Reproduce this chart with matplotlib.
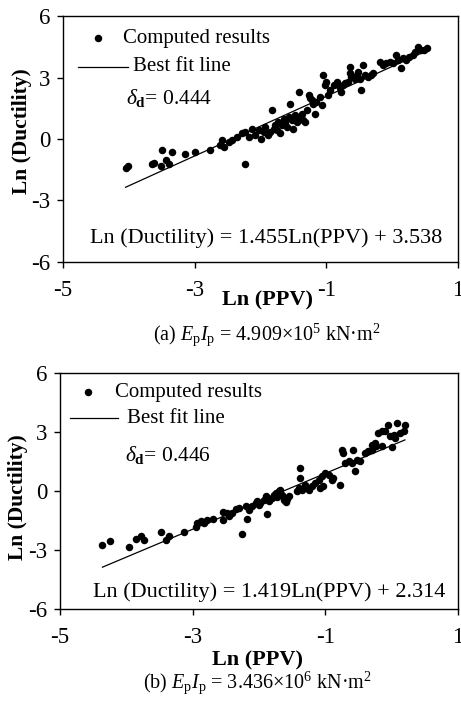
import matplotlib
matplotlib.use("Agg")
import matplotlib.pyplot as plt

plt.rcParams['font.family'] = ['Liberation Serif', 'DejaVu Serif']
plt.rcParams['mathtext.fontset'] = 'custom'
plt.rcParams['mathtext.rm'] = 'Liberation Serif'
plt.rcParams['mathtext.it'] = 'Liberation Serif:italic'
plt.rcParams['mathtext.bf'] = 'Liberation Serif:bold'
plt.rcParams['axes.unicode_minus'] = False

# (a) EpIp = 4.909e5
ppv_a = [-4.05, -4.02, -3.65, -3.62, -3.51, -3.49, -3.44, -3.39, -3.34, -3.15,
         -3.00, -2.76, -2.61, -2.58, -2.56, -2.48, -2.43, -2.36, -2.28, -2.23,
         -2.23, -2.18, -2.13, -2.08, -2.03, -2.00, -1.95, -1.93, -1.88, -1.85,
         -1.83, -1.80, -1.78, -1.75, -1.73, -1.70, -1.68, -1.65, -1.63, -1.60,
         -1.57, -1.55, -1.52, -1.50, -1.47, -1.45, -1.42, -1.40, -1.37, -1.35,
         -1.32, -1.30, -1.27, -1.25, -1.22, -1.20, -1.17, -1.15, -1.10, -1.07,
         -1.05, -1.02, -1.00, -0.97, -0.95, -0.89, -0.84, -0.79, -0.77, -0.74,
         -0.72, -0.67, -0.64, -0.64, -0.62, -0.57, -0.54, -0.52, -0.49, -0.47,
         -0.44, -0.42, -0.37, -0.32, -0.29, -0.19, -0.14, -0.09, -0.04, 0.01,
         0.06, 0.09, 0.14, 0.16, 0.21, 0.26, 0.32, 0.34, 0.39, 0.44,
         0.49, 0.53]
duct_a = [-1.41, -1.33, -1.20, -1.15, -1.31, -0.55, -1.00, -1.20, -0.63, -0.74,
          -0.63, -0.55, -0.30, -0.06, -0.38, -0.14, -0.06, 0.10, 0.27, 0.35,
          -1.20, 0.10, 0.51, 0.19, 0.43, 0.02, 0.35, 0.59, 0.19, 0.35,
          1.41, 0.51, 0.67, 0.43, 0.84, 0.27, 0.67, 1.00, 0.84, 0.59,
          1.08, 1.73, 0.92, 0.51, 1.16, 0.84, 2.30, 1.00, 1.24, 0.92,
          0.84, 1.41, 2.14, 1.98, 1.90, 1.73, 1.24, 1.81, 2.06, 1.65,
          3.12, 2.63, 2.79, 2.14, 2.38, 2.63, 2.79, 2.47, 2.30, 2.63,
          2.71, 2.79, 3.20, 3.52, 3.04, 2.95, 3.12, 3.28, 2.95, 2.38,
          3.61, 3.12, 3.04, 3.12, 3.20, 3.77, 3.61, 3.69, 3.77, 3.69,
          4.09, 3.85, 3.44, 3.93, 3.85, 4.01, 4.09, 4.26, 4.50, 4.34,
          4.34, 4.42]
slope_a, icpt_a = 1.455, 3.538
fit_a = [-4.05, 0.52]

# (b) EpIp = 3.436e6
ppv_b = [-4.36, -4.24, -3.96, -3.86, -3.78, -3.73, -3.48, -3.40, -3.35, -3.13,
         -2.95, -2.93, -2.88, -2.83, -2.78, -2.70, -2.55, -2.54, -2.48, -2.45,
         -2.40, -2.35, -2.30, -2.25, -2.20, -2.18, -2.15, -2.10, -2.05, -2.03,
         -2.00, -1.98, -1.93, -1.90, -1.88, -1.85, -1.80, -1.78, -1.75, -1.73,
         -1.70, -1.68, -1.65, -1.63, -1.60, -1.58, -1.55, -1.43, -1.40, -1.38,
         -1.38, -1.35, -1.30, -1.25, -1.20, -1.15, -1.10, -1.08, -1.05, -1.03,
         -1.00, -0.95, -0.90, -0.88, -0.78, -0.75, -0.73, -0.70, -0.65, -0.60,
         -0.58, -0.56, -0.53, -0.48, -0.40, -0.35, -0.30, -0.30, -0.25, -0.23,
         -0.20, -0.15, -0.15, -0.10, -0.05, -0.03, 0.00, 0.03, 0.05, 0.08,
         0.13, 0.18, 0.20]
duct_b = [-2.73, -2.56, -2.85, -2.44, -2.31, -2.47, -2.10, -2.47, -2.27, -2.08,
          -1.83, -1.63, -1.54, -1.63, -1.49, -1.42, -1.49, -1.08, -1.12, -1.25,
          -1.12, -0.92, -0.86, -2.19, -0.78, -1.42, -0.98, -0.78, -0.61, -0.53,
          -0.69, -0.61, -0.44, -0.27, -1.15, -0.53, -0.36, -0.19, -0.10, -0.31,
          -0.02, 0.07, -0.19, -0.44, -0.58, -0.41, -0.24, -0.02, 0.15, 0.66,
          1.17, 0.03, 0.32, 0.07, 0.24, 0.41, 0.58, 0.15, 0.75, 0.24,
          0.92, 0.83, 0.54, 0.66, 0.32, 2.07, 1.93, 1.42, 1.51, 1.42,
          2.10, 1.00, 1.59, 1.51, 1.93, 2.02, 2.36, 2.10, 2.44, 2.27,
          2.95, 3.03, 2.27, 3.03, 3.37, 2.78, 2.24, 2.86, 2.69, 3.46,
          2.95, 3.03, 3.37]
slope_b, icpt_b = 1.419, 2.314
fit_b = [-4.36, 0.20]

xticks = [-5, -3, -1, 1]
yticks = [-6, -3, 0, 3, 6]

W, H = 461, 704
fig = plt.figure(figsize=(W / 100, H / 100), dpi=100)


def panel(rect, x, y, slope, icpt, fitx, sd, eq, leg, dtxt, eqpos):
    ax = fig.add_axes(rect)
    ax.plot(x, y, 'o', color='black', ms=5.4, mew=0)
    ax.plot(fitx, [slope * v + icpt for v in fitx], color='black', lw=0.9)
    ax.set_xlim(-5, 1)
    ax.set_ylim(-6, 6)
    ax.set_xticks(xticks)
    ax.set_yticks(yticks)
    ax.tick_params(direction='out', length=4, width=1, labelsize=16.5, pad=9)
    ax.tick_params(axis='y', pad=5)
    for s in ax.spines.values():
        s.set_linewidth(1.0)
    # legend drawn by hand to match the original layout
    mx, my, tx, lx0, lx1, ly, lt = leg
    ax.plot([mx], [my], 'o', color='black', ms=5.4, mew=0,
            transform=ax.transAxes, clip_on=False)
    ax.text(tx, my, 'Computed results', transform=ax.transAxes,
            fontsize=15, va='center', ha='left')
    ax.plot([lx0, lx1], [ly, ly], color='black', lw=0.9, transform=ax.transAxes)
    ax.text(lt, ly, 'Best fit line', transform=ax.transAxes,
            fontsize=15, va='center', ha='left')
    ax.text(dtxt[0], dtxt[1], r'$\delta_{\mathbf{d}}$' + '= ' + sd,
            transform=ax.transAxes, fontsize=15.5, va='center', ha='left')
    ax.text(eqpos[0], eqpos[1], eq, transform=ax.transAxes,
            fontsize=16, va='center', ha='center')
    return ax


def frac(l, t, r, b):
    return [l / W, 1 - b / H, (r - l) / W, (b - t) / H]


ax1 = panel(frac(63, 16, 458, 262), ppv_a, duct_a, slope_a, icpt_a, fit_a, '0.444',
            'Ln (Ductility) = 1.455Ln(PPV) + 3.538',
            (0.089, 0.910, 0.152, 0.038, 0.165, 0.793, 0.177),
            (0.160, 0.667), (0.514, 0.098))
ax2 = panel(frac(60, 373, 458, 609), ppv_b, duct_b, slope_b, icpt_b, fit_b, '0.446',
            'Ln (Ductility) = 1.419Ln(PPV) + 2.314',
            (0.070, 0.919, 0.138, 0.025, 0.146, 0.809, 0.168),
            (0.164, 0.653), (0.525, 0.072))

fig.text(22 / W, 1 - 131 / H, 'Ln (Ductility)', rotation=90, fontsize=15.5,
         fontweight='bold', ha='center', va='center')
fig.text(18 / W, 1 - 497 / H, 'Ln (Ductility)', rotation=90, fontsize=15.5,
         fontweight='bold', ha='center', va='center')
fig.text(267 / W, 1 - 300 / H, 'Ln (PPV)', fontsize=16, fontweight='bold',
         ha='center', va='center')
fig.text(257 / W, 1 - 660 / H, 'Ln (PPV)', fontsize=16, fontweight='bold',
         ha='center', va='center')
fig.text(267 / W, 1 - 335 / H,
         r'(a) $E_{\rm p}I_{\rm p}$ = 4.909×10$^{5}$ kN·m$^{2}$',
         fontsize=14.5, ha='center', va='center')
fig.text(257 / W, 1 - 683 / H,
         r'(b) $E_{\rm p}I_{\rm p}$ = 3.436×10$^{6}$ kN·m$^{2}$',
         fontsize=14.5, ha='center', va='center')

fig.savefig('out.png', dpi=100)
